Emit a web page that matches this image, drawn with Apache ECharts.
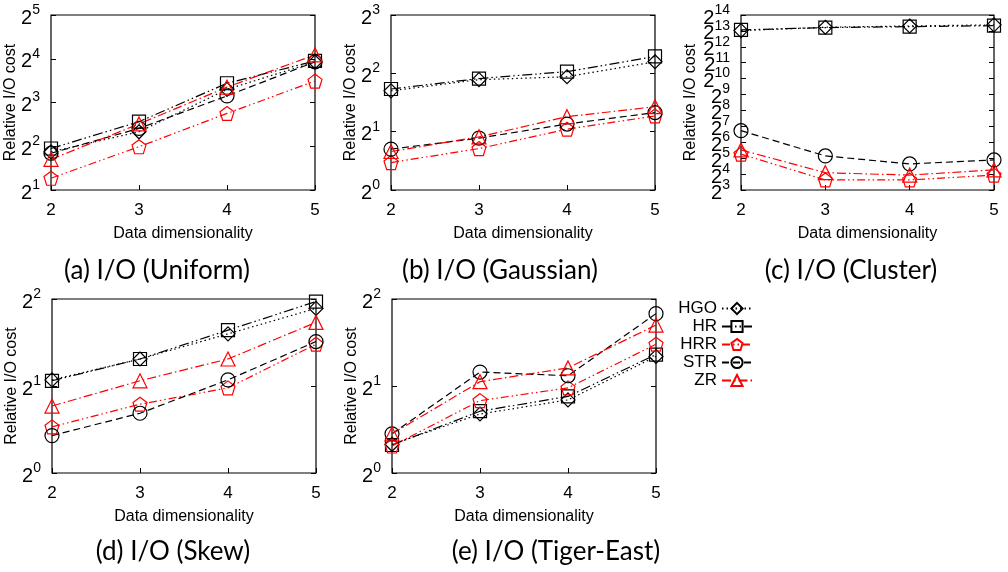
<!DOCTYPE html>
<html>
<head>
<meta charset="utf-8">
<script src="https://cdn.jsdelivr.net/npm/echarts@6/dist/echarts.min.js"></script>
<style>
  html, body { margin: 0; padding: 0; background: #fff; }
  #chart { width: 1008px; height: 572px; }
</style>
</head>
<body>
<div id="chart"></div>
<script>
// x values shared by every panel
const dims = [2, 3, 4, 5];
const seriesNames = ['HGO', 'HR', 'HRR', 'STR', 'ZR'];

// (a) Uniform
const uniformHGO = [3.66, 5.03, 9.85, 15.2];
const uniformHR = [3.86, 5.90, 10.85, 15.45];
const uniformHRR = [2.41, 3.97, 6.73, 11.24];
const uniformSTR = [3.58, 5.31, 8.88, 15.24];
const uniformZR = [3.25, 5.70, 10.2, 17.03];

// (b) Gaussian
const gaussHGO = [3.25, 3.71, 3.84, 4.59];
const gaussHR = [3.32, 3.76, 4.08, 4.89];
const gaussHRR = [1.385, 1.636, 2.06, 2.41];
const gaussSTR = [1.625, 1.853, 2.19, 2.51];
const gaussZR = [1.58, 1.88, 2.39, 2.69];

// (c) Cluster
const clusterHGO = [8305, 9610, 10155, 10660];
const clusterHR = [8540, 9475, 9880, 10300];
const clusterHRR = [38.3, 12.4, 12.4, 15.3];
const clusterSTR = [106, 35.3, 24.9, 29.6];
const clusterZR = [45.9, 17.0, 15.3, 19.2];

// (d) Skew
const skewHGO = [2.10, 2.48, 3.03, 3.71];
const skewHR = [2.085, 2.48, 3.12, 3.92];
const skewHRR = [1.444, 1.73, 1.97, 2.79];
const skewSTR = [1.347, 1.61, 2.10, 2.85];
const skewZR = [1.705, 2.085, 2.48, 3.32];

// (e) Tiger-East
const tigerHGO = [1.257, 1.60, 1.79, 2.53];
const tigerHR = [1.25, 1.636, 1.84, 2.57];
const tigerHRR = [1.24, 1.78, 1.97, 2.79];
const tigerSTR = [1.366, 2.235, 2.17, 3.56];
const tigerZR = [1.366, 2.07, 2.31, 3.25];

// y tick labels (powers of two) per panel
const uniformExp = [1, 2, 3, 4, 5];
const gaussExp = [0, 1, 2, 3];
const clusterExp = [3, 4, 5, 6, 7, 8, 9, 10, 11, 12, 13, 14];
const skewExp = [0, 1, 2];
const tigerExp = [0, 1, 2];

const captions = ['(a) I/O (Uniform)', '(b) I/O (Gaussian)', '(c) I/O (Cluster)',
  '(d) I/O (Skew)', '(e) I/O (Tiger-East)'];

const pentagon = 'path://M0,-100 L95.1,-30.9 L58.8,80.9 L-58.8,80.9 L-95.1,-30.9 Z';
const RED = '#ff0000';
const looks = {
  HGO: { color: '#000', dash: [1.5, 3], symbol: 'diamond', size: 14 },
  HR: { color: '#000', dash: [10, 3, 1.5, 3, 1.5, 3], symbol: 'rect', size: 13 },
  HRR: { color: RED, dash: [8, 3, 1.5, 3, 1.5, 3], symbol: pentagon, size: 14 },
  STR: { color: '#000', dash: [7, 4], symbol: 'circle', size: 14 },
  ZR: { color: RED, dash: [9, 3, 1.5, 3], symbol: 'triangle', size: 14 }
};

const panels = [
  { grid: { left: 51, top: 15, width: 264, height: 175 }, exps: uniformExp, yGap: 32,
    data: [uniformHGO, uniformHR, uniformHRR, uniformSTR, uniformZR], cap: [157, 258] },
  { grid: { left: 391, top: 15, width: 264, height: 175 }, exps: gaussExp, yGap: 32,
    data: [gaussHGO, gaussHR, gaussHRR, gaussSTR, gaussZR], cap: [500, 258] },
  { grid: { left: 741, top: 15, width: 253, height: 175 }, exps: clusterExp, yGap: 42,
    data: [clusterHGO, clusterHR, clusterHRR, clusterSTR, clusterZR], cap: [851, 258] },
  { grid: { left: 52, top: 299, width: 264, height: 174 }, exps: skewExp, yGap: 32,
    data: [skewHGO, skewHR, skewHRR, skewSTR, skewZR], cap: [173, 539] },
  { grid: { left: 392, top: 299, width: 264, height: 174 }, exps: tigerExp, yGap: 32,
    data: [tigerHGO, tigerHR, tigerHRR, tigerSTR, tigerZR], cap: [556, 539] }
];

const FONT = 'Liberation Sans';
const powLabel = e => '{b|2}{s|' + e + '}';

const grids = [], xAxes = [], yAxes = [], series = [], graphics = [];
panels.forEach((p, i) => {
  const lo = p.exps[0], hi = p.exps[p.exps.length - 1];
  grids.push(Object.assign({ show: true, borderColor: '#000', borderWidth: 1.2 }, p.grid));
  xAxes.push({
    type: 'value', gridIndex: i, min: 2, max: 5, interval: 1,
    name: 'Data dimensionality', nameLocation: 'middle', nameGap: 36,
    nameTextStyle: { fontFamily: FONT, fontSize: 16, color: '#000' },
    axisLine: { show: false },
    axisTick: { inside: true, length: 5, lineStyle: { color: '#000' } },
    axisLabel: { margin: 12, fontFamily: FONT, fontSize: 17, color: '#000' },
    splitLine: { show: false }
  });
  const yBase = {
    type: 'log', logBase: 2, gridIndex: i, min: Math.pow(2, lo), max: Math.pow(2, hi), interval: 1,
    axisLine: { show: false },
    axisTick: { inside: true, length: 5, lineStyle: { color: '#000' } },
    axisLabel: { show: false },
    splitLine: { show: false }
  };
  // log scale that the lines use (ticks + axis name)
  yAxes.push(Object.assign({}, yBase, {
    name: 'Relative I/O cost', nameLocation: 'middle', nameGap: p.yGap,
    nameTextStyle: { fontFamily: FONT, fontSize: 16, color: '#000' }
  }));
  // mirrored ticks on the right border
  yAxes.push(Object.assign({}, yBase, { position: 'right' }));
  // labels only: one slot per power of two, so every label is kept
  yAxes.push({
    type: 'category', gridIndex: i, position: 'left', boundaryGap: false,
    data: p.exps.map(String),
    axisLine: { show: false }, axisTick: { show: false }, splitLine: { show: false },
    axisLabel: {
      interval: 0, margin: 11, formatter: powLabel,
      rich: {
        b: { fontFamily: FONT, fontSize: 20, color: '#000', padding: [6, 0, 0, 0] },
        s: { fontFamily: FONT, fontSize: 14, color: '#000', padding: [0, 0, 10, 0] }
      }
    }
  });
  seriesNames.forEach((name, k) => {
    const lk = looks[name];
    series.push({
      name: name, type: 'line', xAxisIndex: i, yAxisIndex: i * 3,
      data: dims.map((d, j) => [d, p.data[k][j]]),
      symbol: lk.symbol, symbolSize: lk.size,
      itemStyle: { color: 'transparent', borderColor: lk.color, borderWidth: 1.2 },
      lineStyle: { color: lk.color, width: 1.2, type: lk.dash },
      animation: false
    });
  });
  graphics.push({
    type: 'text', x: p.cap[0], y: p.cap[1],
    style: { text: captions[i], font: '26px Lato', fill: '#000', textAlign: 'center' }
  });
});

const chart = echarts.init(document.getElementById('chart'), null, { renderer: 'canvas' });
chart.setOption({
  backgroundColor: '#fff',
  animation: false,
  grid: grids,
  xAxis: xAxes,
  yAxis: yAxes,
  series: series,
  legend: {
    data: seriesNames, orient: 'vertical', align: 'right',
    right: 250, top: 295, itemGap: 1, itemWidth: 30, itemHeight: 14,
    textStyle: { fontFamily: FONT, fontSize: 17, color: '#000' }
  },
  graphic: graphics
});
</script>
</body>
</html>
